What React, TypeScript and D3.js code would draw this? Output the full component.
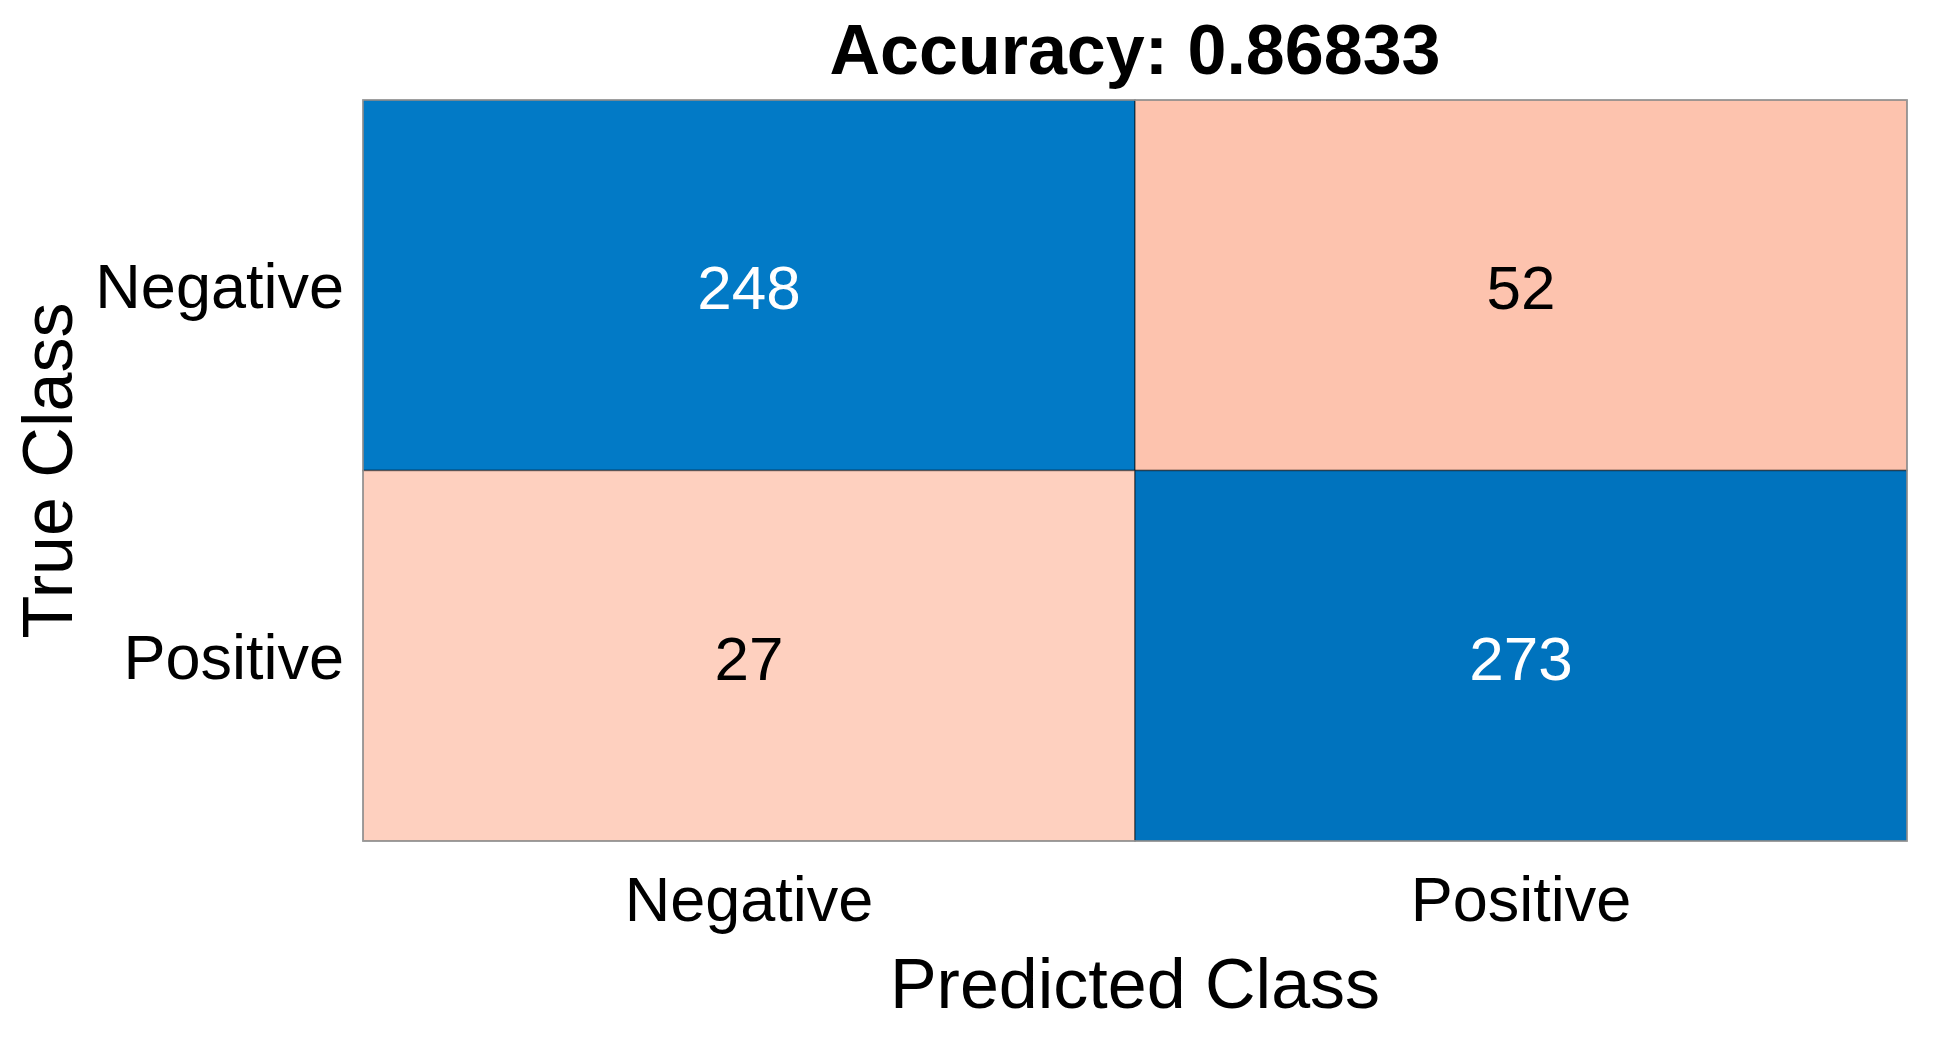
import React from "react";
import * as d3 from "d3";

const title = "Accuracy: 0.86833";
const trueClasses = ["Negative", "Positive"];
const predictedClasses = ["Negative", "Positive"];
const countsNegativeRow = [248, 52];
const countsPositiveRow = [27, 273];
const xLabel = "Predicted Class";
const yLabel = "True Class";

const W = 1933;
const H = 1043;
const margin = { left: 363, right: 26, top: 100, bottom: 202 };
const FONT = "'Liberation Sans', Arial, Helvetica, sans-serif";

export default function App() {
  const rows = [countsNegativeRow, countsPositiveRow];
  const x = d3
    .scaleBand<string>()
    .domain(predictedClasses)
    .range([margin.left, W - margin.right]);
  const y = d3
    .scaleBand<string>()
    .domain(trueClasses)
    .range([margin.top, H - margin.bottom]);

  const rowTotals = rows.map((r) => d3.sum(r));
  const diagColor = d3
    .scaleLinear<string>()
    .domain([0.8, 0.92])
    .range(["#037cc8", "#0072bd"])
    .clamp(true);
  const offColor = d3
    .scaleLinear<string>()
    .domain([0.08, 0.18])
    .range(["#fed1c1", "#fdc2ad"])
    .clamp(true);

  const cells: { r: number; c: number; v: number; fill: string; diag: boolean }[] = [];
  rows.forEach((row, r) =>
    row.forEach((v, c) => {
      const frac = v / rowTotals[r];
      const diag = r === c;
      cells.push({ r, c, v, diag, fill: diag ? diagColor(frac) : offColor(frac) });
    })
  );

  const cx = (margin.left + W - margin.right) / 2;
  const cy = (margin.top + H - margin.bottom) / 2;

  return (
    <svg
      width={W}
      height={H}
      style={{ position: "absolute", left: 0, top: 0, background: "#fff" }}
      fontFamily={FONT}
    >
      <rect x={0} y={0} width={W} height={H} fill="#fff" />
      {cells.map((d) => (
        <rect
          key={`${d.r}-${d.c}`}
          x={x(predictedClasses[d.c])}
          y={y(trueClasses[d.r])}
          width={x.bandwidth()}
          height={y.bandwidth()}
          fill={d.fill}
          stroke="rgba(0,0,0,0.45)"
          strokeWidth={1.5}
        />
      ))}
      <rect
        x={margin.left}
        y={margin.top}
        width={W - margin.left - margin.right}
        height={H - margin.top - margin.bottom}
        fill="none"
        stroke="#9a9a9a"
        strokeWidth={1.5}
      />
      {cells.map((d) => (
        <text
          key={`t-${d.r}-${d.c}`}
          x={(x(predictedClasses[d.c]) as number) + x.bandwidth() / 2}
          y={(y(trueClasses[d.r]) as number) + y.bandwidth() / 2 + 24}
          textAnchor="middle"
          fontSize={62}
          fill={d.diag ? "#ffffff" : "#000000"}
        >
          {d.v}
        </text>
      ))}
      {trueClasses.map((t) => (
        <text
          key={`y-${t}`}
          x={margin.left - 19}
          y={(y(t) as number) + y.bandwidth() / 2 + 23}
          textAnchor="end"
          fontSize={63}
          fill="#000"
        >
          {t}
        </text>
      ))}
      {predictedClasses.map((t) => (
        <text
          key={`x-${t}`}
          x={(x(t) as number) + x.bandwidth() / 2}
          y={H - margin.bottom + 80}
          textAnchor="middle"
          fontSize={63}
          fill="#000"
        >
          {t}
        </text>
      ))}
      <text x={cx} y={1008} textAnchor="middle" fontSize={70} fill="#000">
        {xLabel}
      </text>
      <text
        transform={`translate(72,${cy}) rotate(-90)`}
        textAnchor="middle"
        fontSize={70}
        fill="#000"
      >
        {yLabel}
      </text>
      <text x={cx} y={74} textAnchor="middle" fontSize={70} fontWeight="bold" fill="#000">
        {title}
      </text>
    </svg>
  );
}
